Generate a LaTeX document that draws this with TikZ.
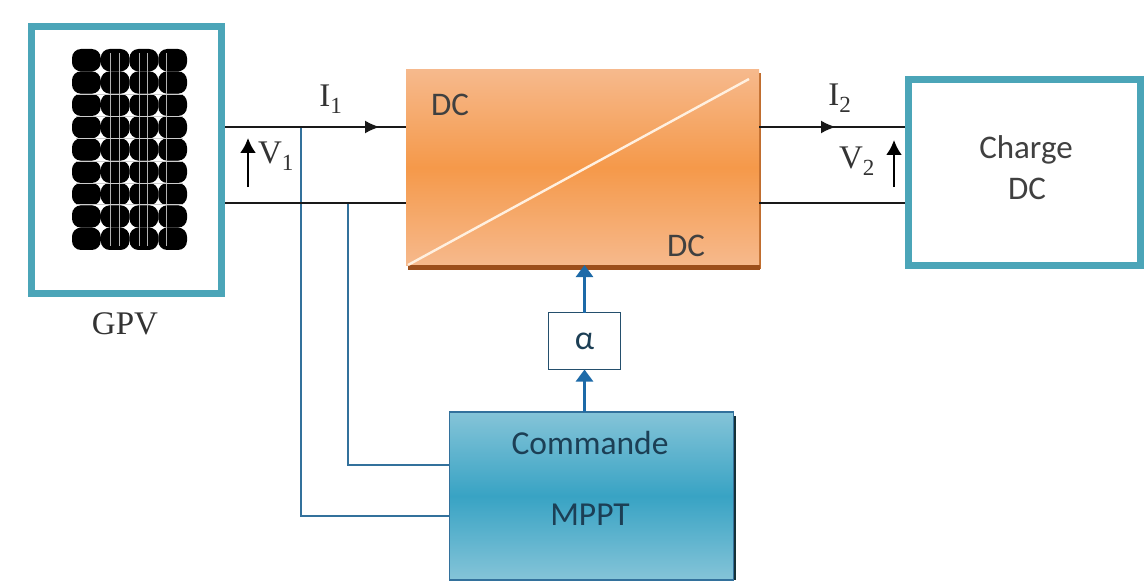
\documentclass[tikz,border=0pt]{standalone}
\usepackage{fontspec}
\setmainfont{Carlito}
\newfontfamily\serifface{Liberation Serif}
\usetikzlibrary{arrows.meta}
\definecolor{tealframe}{HTML}{4BA5B8}
\definecolor{wireblue}{HTML}{33719C}
\definecolor{arrowblue}{HTML}{1D6AA8}
\definecolor{inkdark}{HTML}{1C3F55}
\definecolor{orangelight}{HTML}{F6B98C}
\definecolor{orangemid}{HTML}{F5994A}
\definecolor{orangedark}{HTML}{9C4F1C}
\definecolor{mpptlight}{HTML}{85C4D8}
\definecolor{mpptmid}{HTML}{38A3C4}
\tikzset{
  x=1pt,y=-1pt,
  framebox/.style={draw=tealframe,line width=7pt,fill=white,inner sep=0pt,anchor=north west},
  powerwire/.style={draw=black!90,line width=2.4pt},
  signalwire/.style={draw=wireblue,line width=2.6pt},
  signalarrow/.style={draw=arrowblue,line width=2.6pt,-{Triangle[length=12pt,width=17pt]}},
  currenttip/.style={-{Latex[length=15pt,width=13pt]}},
  voltarrow/.style={draw=black,line width=2.4pt,-{Latex[length=15pt,width=16pt]}},
  seriflabel/.style={font=\serifface\fontsize{33}{36}\selectfont,text=black!80,inner sep=0pt},
  sanslabel/.style={font=\fontsize{33}{36}\selectfont,text=black!75,inner sep=0pt},
  bluelabel/.style={font=\fontsize{33.5}{36}\selectfont,text=inkdark,inner sep=0pt},
  cell/.style={fill=black,rounded corners=9pt},
}
\begin{document}
\begin{tikzpicture}
\useasboundingbox (0,0) rectangle (1146,583);
\fill[white] (0,0) rectangle (1146,583);

% Photovoltaic generator
\node[framebox,minimum width=190pt,minimum height=267pt] (gpv) at (28,23) {};
\foreach \c in {0,1,2,3}{
  \foreach \r in {0,...,8}{
    \fill[cell] ({72+28.75*\c},{49+22.33*\r}) rectangle ++(28.75,22.33);
  }
}
\foreach \xx in {110,119,139,147,166}{
  \draw[gray!60,line width=.5pt] (\xx,53) -- (\xx,246);
}
\foreach \yy in {94,116,138,161,183,204}{
  \draw[gray!40,line width=.3pt] (76,\yy) -- (183,\yy);
}
\node[seriflabel] (gpvlabel) at (125,324) {GPV};

% DC/DC converter
\fill[orangedark!60!orangemid] (408,73) rectangle (761,269);
\node[anchor=north west,minimum width=353pt,minimum height=195pt,inner sep=0pt,outer sep=0pt,
  top color=orangelight,bottom color=orangelight,middle color=orangemid] (conv) at (406,70) {};
\fill[orangedark] (408,264.5) rectangle (760,269.5);
\draw[draw=orange!12!white,line width=2.4pt] (408,265) -- (749,79);
\node[sanslabel] (dca) at (450,105) {DC};
\node[sanslabel] (dcb) at (686,246) {DC};

% Load
\node[framebox,minimum width=232pt,minimum height=186pt] (load) at (905,76) {};
\node[sanslabel] (chargetxt) at (1026,150) {Charge};
\node[sanslabel] (dcc) at (1027,189) {DC};

% MPPT control
\fill[black!70!tealframe] (452,416) rectangle (736,580);
\node[anchor=north west,minimum width=284pt,minimum height=168pt,inner sep=0pt,outer sep=0pt,
  top color=mpptlight,bottom color=mpptlight,middle color=mpptmid,
  draw=wireblue,line width=1.5pt] (mppt) at (449.5,412) {};
\node[bluelabel] (cmdtxt) at (590,443) {Commande};
\node[bluelabel] (mppttxt) at (590,515) {MPPT};

% Duty cycle
\node[draw=wireblue!70!black,line width=1.9pt,fill=white,minimum width=72pt,minimum height=57pt,inner sep=0pt,outer sep=0pt,
  font=\fontsize{34}{36}\selectfont,text=inkdark] (alpha) at (584.5,341) {α};

% Wires
\coordinate (upper) at (0,127);
\coordinate (lower) at (0,203);
\coordinate (uppertap) at (301,127);
\coordinate (lowertap) at (348,203);
\coordinate (uppermid) at (380,127);
\coordinate (outmid) at (836,127);
\coordinate (mpptlow) at (0,516);
\coordinate (mpptup) at (0,465);

\draw[signalwire] (uppertap) -- (uppertap |- mpptlow) -- (mppt.west |- mpptlow);
\draw[signalwire] (lowertap) -- (lowertap |- mpptup) -- (mppt.west |- mpptup);

\draw[powerwire] (gpv.east |- upper) -- (conv.west |- upper);
\draw[powerwire] (gpv.east |- lower) -- (conv.west |- lower);
\draw[powerwire] (conv.east |- upper) -- (load.west |- upper);
\draw[powerwire] (conv.east |- lower) -- (load.west |- lower);
\draw[powerwire,currenttip] (gpv.east |- upper) -- (uppermid);
\draw[powerwire,currenttip] (conv.east |- upper) -- (outmid);

\coordinate (vonefoot) at (248,187);
\coordinate (vonehead) at (248,138);
\coordinate (vtwofoot) at (894,187);
\coordinate (vtwohead) at (894,140);
\draw[voltarrow] (vonefoot) -- (vonehead);
\draw[voltarrow] (vtwofoot) -- (vtwohead);

\draw[signalarrow] (alpha.south |- mppt.north) -- (alpha.south);
\draw[signalarrow] (alpha.north) -- (alpha.north |- conv.south);

% Electrical labels
\node[seriflabel] (ione) at (331,99) {I\textsubscript{1}};
\node[seriflabel] (vone) at (276,156) {V\textsubscript{1}};
\node[seriflabel] (itwo) at (840,98) {I\textsubscript{2}};
\node[seriflabel] (vtwo) at (857,161) {V\textsubscript{2}};
\end{tikzpicture}
\end{document}
